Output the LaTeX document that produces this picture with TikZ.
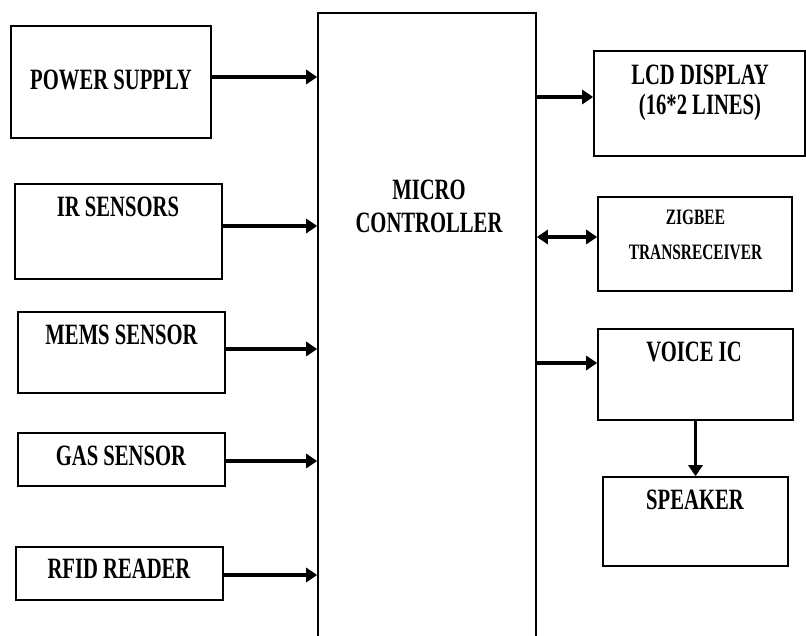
\documentclass[tikz,border=0pt]{standalone}
\usepackage{fontspec}
\setmainfont{Liberation Serif}[FakeStretch=0.7]
\usetikzlibrary{arrows.meta}

\begin{document}
\begin{tikzpicture}[x=1pt,y=-1pt,
  box/.style={draw,line width=1.6pt,inner sep=0pt},
  txt/.style={anchor=base,inner sep=0pt,font=\fontsize{29.5}{32}\selectfont\bfseries},
  small/.style={anchor=base,inner sep=0pt,font=\fontsize{22}{24}\selectfont\bfseries},
  arr/.style={line width=3.5pt,-{Triangle[length=11pt,width=14pt]}},
  darr/.style={line width=3.5pt,{Triangle[length=11pt,width=14pt]}-{Triangle[length=11pt,width=14pt]}}]
\useasboundingbox (0,0) rectangle (806,636);
\clip (0,0) rectangle (806,636);

% Inputs
\node[box,minimum width=200pt,minimum height=112pt] (power) at (111,82) {};
\node[box,minimum width=207pt,minimum height=95pt] (ir) at (118.5,231.5) {};
\node[box,minimum width=207pt,minimum height=81pt] (mems) at (121.5,352.5) {};
\node[box,minimum width=207pt,minimum height=53pt] (gas) at (121.5,459.5) {};
\node[box,minimum width=207pt,minimum height=53pt] (rfid) at (119.5,573.5) {};

\node[txt] (powert) at (111,89.8) {POWER SUPPLY};
\node[txt] (irt) at (118,216.8) {IR SENSORS};
\node[txt] (memst) at (121.5,344.8) {MEMS SENSOR};
\node[txt] (gast) at (121,465.8) {GAS SENSOR};
\node[txt] (rfidt) at (119,578.8) {RFID READER};

% Controller
\node[box,minimum width=218pt,minimum height=700pt] (mc) at (427,363) {};
\node[txt] (mct1) at (429,199.8) {MICRO};
\node[txt] (mct2) at (429,232.8) {CONTROLLER};

% Outputs
\node[box,minimum width=211pt,minimum height=105pt] (lcd) at (699.5,103.5) {};
\node[box,minimum width=194pt,minimum height=94pt] (zig) at (695,244) {};
\node[box,minimum width=195pt,minimum height=91pt] (voice) at (695.5,374.5) {};
\node[box,minimum width=185pt,minimum height=89pt] (spk) at (695.5,521.5) {};

\node[txt] (lcdt1) at (700,84.8) {LCD DISPLAY};
\node[txt] (lcdt2) at (700,114.8) {(16*2 LINES)};
\node[small] (zigt1) at (695.5,224.3) {ZIGBEE};
\node[small] (zigt2) at (695.5,259.3) {TRANSRECEIVER};
\node[txt] (voicet) at (694,361.8) {VOICE IC};
\node[txt] (spkt) at (695,509.8) {SPEAKER};

% Arrows
\draw[arr] (power.east |- 0,77) -- (mc.west |- 0,77);
\draw[arr] (ir.east |- 0,226) -- (mc.west |- 0,226);
\draw[arr] (mems.east |- 0,349) -- (mc.west |- 0,349);
\draw[arr] (gas.east |- 0,461) -- (mc.west |- 0,461);
\draw[arr] (rfid.east |- 0,575) -- (mc.west |- 0,575);
\draw[arr] (mc.east |- 0,97) -- (lcd.west |- 0,97);
\draw[darr] (mc.east |- 0,237) -- (zig.west |- 0,237);
\draw[arr] (mc.east |- 0,363) -- (voice.west |- 0,363);
\draw[arr] (voice.south) -- (spk.north);
\end{tikzpicture}
\end{document}
